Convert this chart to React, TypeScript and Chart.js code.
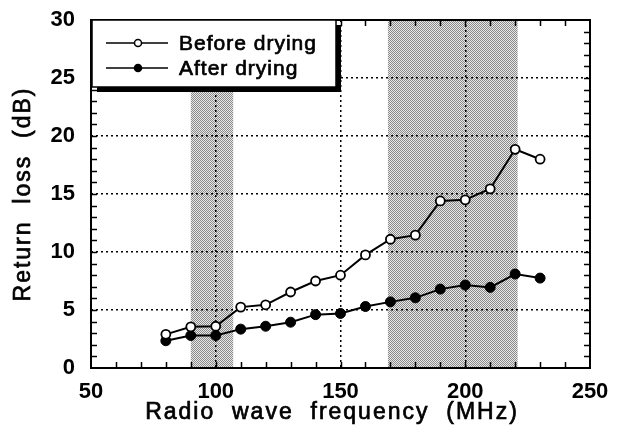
import React, { useEffect, useRef } from "react";
import { Chart, registerables } from "chart.js";

Chart.register(...registerables);

// ---- data ----
const frequencies = [80, 90, 100, 110, 120, 130, 140, 150, 160, 170, 180, 190, 200, 210, 220, 230];
const beforeDrying = [2.9, 3.55, 3.6, 5.25, 5.45, 6.55, 7.5, 8.0, 9.75, 11.1, 11.45, 14.4, 14.5, 15.45, 18.85, 18.0];
const afterDrying = [2.35, 2.8, 2.8, 3.35, 3.6, 3.95, 4.6, 4.7, 5.3, 5.7, 6.05, 6.8, 7.15, 6.95, 8.1, 7.75];
const shadedBands: number[][] = [
  [90, 107],
  [169, 221],
];
const xRange = [50, 250];
const yRange = [0, 30];
const xMajorStep = 50;
const yMajorStep = 5;
const xMinorStep = 10;
const yMinorStep = 1;
const seriesLabels = ["Before drying", "After drying"];
const xTitle = "Radio  wave  frequency  (MHz)";
const yTitle = "Return  loss  (dB)";

const FONT = "'Liberation Sans', Arial, sans-serif";

function makePattern(ctx: CanvasRenderingContext2D) {
  const c = document.createElement("canvas");
  c.width = 2;
  c.height = 2;
  const p = c.getContext("2d")!;
  p.fillStyle = "#e8e8e8";
  p.fillRect(0, 0, 2, 2);
  p.fillStyle = "#8a8a8a";
  p.fillRect(0, 0, 1, 1);
  p.fillRect(1, 1, 1, 1);
  return ctx.createPattern(c, "repeat");
}

function heavyText(ctx: CanvasRenderingContext2D, s: string, x: number, y: number) {
  ctx.fillText(s, x, y);
  ctx.lineWidth = 0.7;
  ctx.strokeStyle = "#000";
  ctx.strokeText(s, x, y);
}

const decorPlugin = {
  id: "decor",
  beforeDraw(chart: any) {
    const { ctx, chartArea, scales } = chart;
    const xs = scales.x;
    ctx.save();
    ctx.fillStyle = makePattern(ctx) || "#bbb";
    for (const [a, b] of shadedBands) {
      const x1 = xs.getPixelForValue(a);
      const x2 = xs.getPixelForValue(b);
      ctx.fillRect(x1, chartArea.top, x2 - x1, chartArea.bottom - chartArea.top);
    }
    ctx.restore();
  },
  afterDraw(chart: any) {
    const { ctx, chartArea, scales } = chart;
    const xs = scales.x;
    const ys = scales.y;
    const { left, right, top, bottom } = chartArea;
    ctx.save();
    // frame
    ctx.strokeStyle = "#000";
    ctx.lineWidth = 2;
    ctx.setLineDash([]);
    ctx.strokeRect(left, top, right - left, bottom - top);
    // minor ticks
    ctx.lineWidth = 1.5;
    ctx.beginPath();
    for (let v = xRange[0] + xMinorStep; v < xRange[1]; v += xMinorStep) {
      const px = Math.round(xs.getPixelForValue(v)) + 0.5;
      ctx.moveTo(px, bottom);
      ctx.lineTo(px, bottom - 6);
      ctx.moveTo(px, top);
      ctx.lineTo(px, top + 6);
    }
    for (let v = yRange[0] + yMinorStep; v < yRange[1]; v += yMinorStep) {
      const py = Math.round(ys.getPixelForValue(v)) + 0.5;
      ctx.moveTo(left, py);
      ctx.lineTo(left + 6, py);
      ctx.moveTo(right, py);
      ctx.lineTo(right - 6, py);
    }
    ctx.stroke();

    // axis titles
    ctx.fillStyle = "#000";
    ctx.font = `23px ${FONT}`;
    (ctx as any).letterSpacing = "2px";
    ctx.textAlign = "center";
    ctx.textBaseline = "middle";
    heavyText(ctx, xTitle, 332, 413);
    ctx.save();
    ctx.translate(24, (top + bottom) / 2);
    ctx.rotate(-Math.PI / 2);
    heavyText(ctx, yTitle, 0, 0);
    ctx.restore();

    // legend
    const lx = left + 1;
    const ly = top;
    const lw = 244;
    const lh = 67;
    ctx.fillStyle = "#000";
    ctx.fillRect(lx + 5, ly + 5, lw, lh);
    ctx.fillStyle = "#fff";
    ctx.fillRect(lx, ly, lw, lh);
    ctx.strokeStyle = "#000";
    ctx.lineWidth = 1.5;
    ctx.strokeRect(lx, ly, lw, lh);
    const rows = [ly + 23, ly + 48];
    seriesLabels.forEach((lab, i) => {
      const y = rows[i];
      ctx.beginPath();
      ctx.lineWidth = 1.5;
      ctx.strokeStyle = "#000";
      ctx.moveTo(lx + 14, y);
      ctx.lineTo(lx + 76, y);
      ctx.stroke();
      ctx.beginPath();
      ctx.arc(lx + 46, y, 3.5, 0, Math.PI * 2);
      ctx.fillStyle = i === 0 ? "#fff" : "#000";
      ctx.fill();
      ctx.stroke();
      ctx.fillStyle = "#000";
      ctx.font = `21px ${FONT}`;
      (ctx as any).letterSpacing = "1px";
      ctx.textAlign = "left";
      ctx.textBaseline = "middle";
      heavyText(ctx, lab, lx + 87, y + 1);
    });
    ctx.restore();
  },
};

export default function App() {
  const ref = useRef<HTMLCanvasElement | null>(null);
  useEffect(() => {
    document.body.style.margin = "0";
    const canvas = ref.current!;
    const gridColor = (c: any, lo: number, hi: number) =>
      c.tick && (c.tick.value === lo || c.tick.value === hi) ? "rgba(0,0,0,0)" : "#000";
    const chart = new Chart(canvas, {
      type: "line",
      data: {
        datasets: [
          {
            label: seriesLabels[0],
            data: frequencies.map((f, i) => ({ x: f, y: beforeDrying[i] })),
            borderColor: "#000",
            borderWidth: 2,
            backgroundColor: "#fff",
            pointBackgroundColor: "#fff",
            pointBorderColor: "#000",
            pointBorderWidth: 1.8,
            pointRadius: 4.5,
            tension: 0,
          },
          {
            label: seriesLabels[1],
            data: frequencies.map((f, i) => ({ x: f, y: afterDrying[i] })),
            borderColor: "#000",
            borderWidth: 2,
            backgroundColor: "#000",
            pointBackgroundColor: "#000",
            pointBorderColor: "#000",
            pointBorderWidth: 1,
            pointRadius: 5,
            tension: 0,
          },
        ],
      },
      options: {
        animation: false,
        responsive: false,
        maintainAspectRatio: false,
        events: [],
        layout: { padding: { left: 0, right: 32, top: 20, bottom: 0 } },
        plugins: { legend: { display: false }, tooltip: { enabled: false } },
        scales: {
          x: {
            type: "linear",
            min: xRange[0],
            max: xRange[1],
            ticks: {
              stepSize: xMajorStep,
              color: "#000",
              font: { family: FONT, size: 22, weight: "bold" },
              padding: 0,
              maxRotation: 0,
            },
            grid: {
              color: (c: any) => gridColor(c, xRange[0], xRange[1]),
              lineWidth: 1.5,
              drawTicks: true,
              tickLength: 11,
              tickColor: "rgba(0,0,0,0)",
            },
            border: { display: false, dash: [2, 3] },
            afterFit: (s: any) => {
              s.height = 72;
            },
          },
          y: {
            type: "linear",
            min: yRange[0],
            max: yRange[1],
            ticks: {
              stepSize: yMajorStep,
              color: "#000",
              font: { family: FONT, size: 22, weight: "bold" },
              padding: 0,
            },
            grid: {
              color: (c: any) => gridColor(c, yRange[0], yRange[1]),
              lineWidth: 1.5,
              drawTicks: true,
              tickLength: 16,
              tickColor: "rgba(0,0,0,0)",
            },
            border: { display: false, dash: [2, 3] },
            afterFit: (s: any) => {
              s.width = 91;
            },
          },
        },
      },
      plugins: [decorPlugin],
    } as any);
    return () => chart.destroy();
  }, []);
  return (
    <div style={{ position: "relative", width: 622, height: 440 }}>
      <canvas ref={ref} width={622} height={440} style={{ width: 622, height: 440, display: "block" }} />
    </div>
  );
}
